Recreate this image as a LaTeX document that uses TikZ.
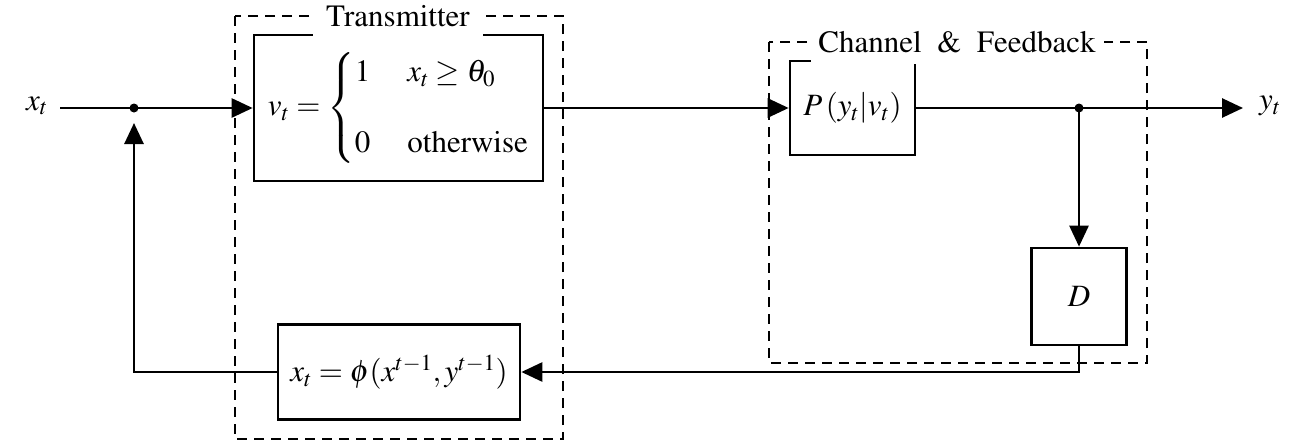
\documentclass[tikz,border=0pt]{standalone}
\usepackage[T1]{fontenc}
\usepackage{amsmath}
\usepackage{mathptmx}
\usetikzlibrary{arrows.meta}

\tikzset{
  wire/.style={line width=2.7pt},
  tip/.style={-{Triangle[length=21pt,width=19pt]}},
  block/.style={draw, line width=2.7pt, inner sep=0pt},
  frame/.style={line width=2.2pt, dash pattern=on 10pt off 7pt},
  title/.style={fill=white, inner sep=0pt},
  dot/.style={circle, fill, inner sep=0pt, minimum size=9pt}
}

\begin{document}
\begin{tikzpicture}[x=1pt, y=-1pt, font=\fontsize{31}{37}\selectfont]
\useasboundingbox (0,0) rectangle (1300,447);

% dashed group frames
\draw[frame] (235,16) rectangle (563,439);
\draw[frame] (769,42) rectangle (1147,363);

% processing blocks
\node[block, minimum width=289pt, minimum height=146pt] (enc) at (398.5,108)
  {$v_t = \begin{cases} 1 & \hspace{6pt}x_t \geq \theta_0 \\[26pt] 0 & \hspace{6pt}\text{otherwise} \end{cases}$\hspace{26pt}};
\node[block, minimum width=125pt, minimum height=94pt] (chan) at (852.5,108) {$P\,(y_t|v_t)$};
\node[block, minimum width=95pt, minimum height=97pt] (delay) at (1079,296.5) {$D$};
\node[block, minimum width=242pt, minimum height=95pt] (upd) at (399,372) {$x_t = \phi(x^{t-1}, y^{t-1})$};

% group titles
\node[title, minimum width=170pt, minimum height=42pt] (txt) at (398,16) {Transmitter};
\node[title, minimum width=293pt, minimum height=44pt] (cht) at (957,42) {Channel \ \& \ Feedback};

% signals
\node (xin) at (37,106) {$x_t$};
\node (yout) at (1270,106) {$y_t$};
\coordinate (start) at (60,108);
\node[dot] (j1) at (134,108) {};
\node[dot] (j2) at (1079,108) {};
\coordinate (yend) at (1243,108);
\coordinate (upend) at (134,123);

\draw[wire] (start) -- (j1.center);
\draw[wire, tip] (j1.center) -- (enc.west);
\draw[wire, tip] (enc.east) -- (chan.west);
\draw[wire] (chan.east) -- (j2.center);
\draw[wire, tip] (j2.center) -- (yend);
\draw[wire, tip] (j2.center) -- (delay.north);
\draw[wire, tip] (delay.south) |- (upd.east);
\draw[wire, tip] (upd.west) -| (upend);
\end{tikzpicture}
\end{document}
